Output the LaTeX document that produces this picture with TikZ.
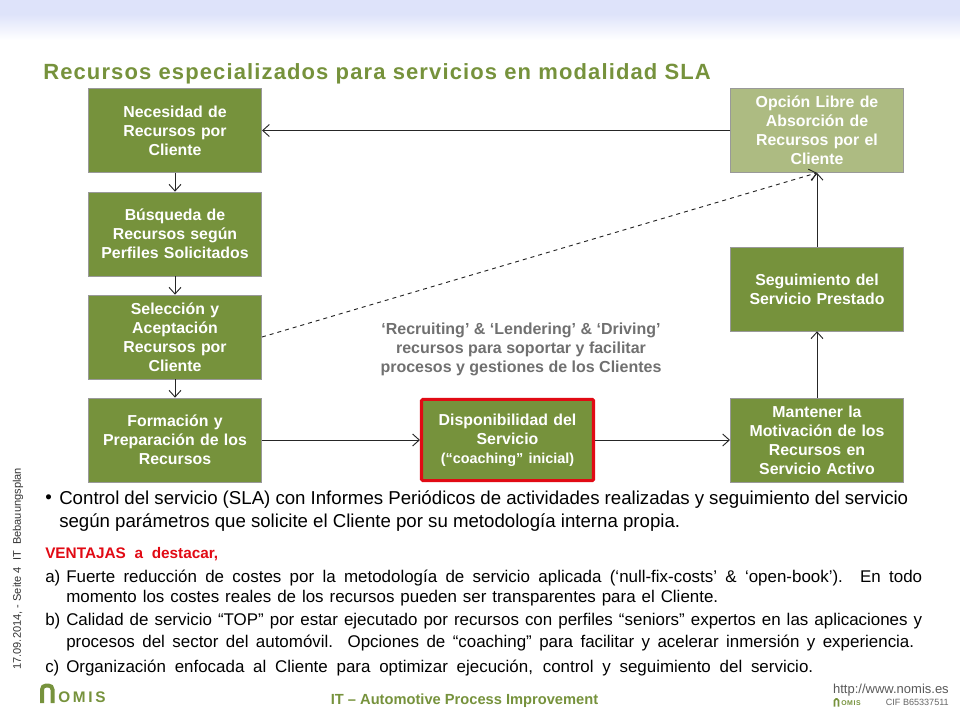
\documentclass[tikz,border=0pt]{standalone}
\usepackage{fontspec}
\setmainfont{Liberation Sans}
\usetikzlibrary{arrows.meta, positioning, calc}
\definecolor{nomisgreen}{RGB}{118,146,60}
\definecolor{nomislight}{RGB}{173,187,130}
\definecolor{nomisgrey}{RGB}{112,112,112}
\definecolor{nomisblue}{RGB}{222,227,250}
\definecolor{nomisred}{RGB}{225,10,20}
% a line stretched to a width given in pixels of the reference
\newcommand{\spanline}[2]{\makebox[\dimexpr #1pt*3/4\relax][s]{#2}}
\tikzset{
    flowbox/.style={
        draw=black!40,
        fill=nomisgreen,
        line width=0.5pt,
        minimum width=130pt,
        minimum height=63pt,
        inner sep=0pt,
        text width=128pt,
        align=center,
        text=white,
        font=\fontsize{11.9}{14.2}\selectfont\bfseries
    },
    flowline/.style={
        draw=black!85,
        line width=0.7pt,
        -{Straight Barb[length=5pt,width=9pt]}
    },
    bodytext/.style={
        anchor=north west,
        inner sep=0pt,
        align=left,
        font=\fontsize{12.7}{15}\selectfont
    },
    logoarch/.style={
        draw=nomisgreen,
        line cap=butt,
        rounded corners=3pt
    }
}
\begin{document}
\begin{tikzpicture}[x=0.75pt,y=-0.75pt]
    \useasboundingbox (0,0) rectangle (960,720);
    \shade[top color=nomisblue, bottom color=white] (0,14) rectangle (960,40);
    \fill[nomisblue] (0,0) rectangle (960,14);

    \node[anchor=west, inner sep=0pt, text=nomisgreen, font=\fontsize{16.5}{18}\selectfont\bfseries\addfontfeature{LetterSpace=5.1}]
        (heading) at (43,73.5) {Recursos especializados para servicios en modalidad SLA};

    \node[flowbox] (necesidad) at (175,130.5) {Necesidad de\\Recursos por\\Cliente};
    \node[flowbox] (busqueda) at (175,234) {Búsqueda de\\Recursos según\\Perfiles Solicitados};
    \node[flowbox] (seleccion) at (175,337) {Selección y\\Aceptación\\Recursos por\\Cliente};
    \node[flowbox] (formacion) at (175,440) {Formación y\\Preparación de los\\Recursos};
    \node[flowbox, draw=nomisred, line width=2.3pt, rounded corners=1pt, minimum width=129pt, minimum height=61pt] (disponible) at (507.5,440)
        {Disponibilidad del\\Servicio\\{\fontsize{10.8}{14.2}\selectfont(“coaching” inicial)}};
    \node[flowbox] (mantener) at (817,440) {Mantener la\\Motivación de los\\Recursos en\\Servicio Activo};
    \node[flowbox] (seguimiento) at (817,289) {Seguimiento del\\Servicio Prestado};
    \node[flowbox, fill=nomislight] (opcion) at (817,130.5) {Opción Libre de\\Absorción de\\Recursos por el\\Cliente};

    \draw[flowline] (necesidad) -- (busqueda);
    \draw[flowline] (busqueda) -- (seleccion);
    \draw[flowline] (seleccion) -- (formacion);
    \draw[flowline] (formacion) -- (disponible);
    \draw[flowline] (disponible) -- (mantener);
    \draw[flowline] (mantener) -- (seguimiento);
    \draw[flowline] (seguimiento) -- (opcion);
    \draw[flowline] (opcion) -- (necesidad);
    \draw[flowline, dashed] (seleccion.east) -- (opcion.south);

    \node[inner sep=0pt, align=center, text=nomisgrey, font=\fontsize{12}{14.2}\selectfont\bfseries] (nota) at (521,349)
        {‘Recruiting’ \& ‘Lendering’ \& ‘Driving’\hspace{17pt}\\recursos para soportar y facilitar\\procesos y gestiones de los Clientes};

    \node[anchor=west, inner sep=0pt, font=\fontsize{14}{16}\selectfont] (bala) at (45,499) {•};
    \node[bodytext, font=\fontsize{14}{17.25}\selectfont] (control) at (59,490)
        {\spanline{849}{Control del servicio (SLA) con Informes Periódicos de actividades realizadas y seguimiento del servicio}\\
        \spanline{621}{según parámetros que solicite el Cliente por su metodología interna propia.}};

    \node[anchor=west, inner sep=0pt, text=nomisred, font=\fontsize{11.5}{12}\selectfont\bfseries] (ventajas) at (45,554)
        {\spanline{173}{VENTAJAS a destacar,}};

    \node[bodytext] (marcaa) at (45,569.5) {a)};
    \node[bodytext] (textoa) at (66,569.5)
        {\spanline{856}{Fuerte reducción de costes por la metodología de servicio aplicada (‘null-fix-costs’ \& ‘open-book’). En todo}\\
        \spanline{652}{momento los costes reales de los recursos pueden ser transparentes para el Cliente.}};
    \node[bodytext] (marcab) at (45,612.5) {b)};
    \node[bodytext, font=\fontsize{12.7}{16.5}\selectfont] (textob) at (66,612.5)
        {\spanline{856}{Calidad de servicio “TOP” por estar ejecutado por recursos con perfiles “seniors” expertos en las aplicaciones y}\\
        \spanline{848}{procesos del sector del automóvil. Opciones de “coaching” para facilitar y acelerar inmersión y experiencia.}};
    \node[bodytext] (marcac) at (45,660) {c)};
    \node[bodytext] (textoc) at (66,660)
        {\spanline{747}{Organización enfocada al Cliente para optimizar ejecución, control y seguimiento del servicio.}};

    \node[rotate=90, anchor=west, inner sep=0pt, text=black!80, font=\fontsize{8.3}{9}\selectfont] (margen) at (18,670)
        {17.09.2014, - Seite 4 \ IT \ Bebauungsplan};

    \draw[logoarch, line width=3pt] (42,703) -- (42,685.5) -- (52.5,685.5) -- (52.5,703);
    \node[anchor=west, inner sep=0pt, text=nomisgreen, font=\fontsize{11.5}{12}\selectfont\bfseries\addfontfeature{LetterSpace=18}] (logo) at (58,697.5) {OMIS};
    \node[inner sep=0pt, text=nomisgreen, font=\fontsize{11}{12}\selectfont\bfseries] (lema) at (464.5,701) {IT – Automotive Process Improvement};
    \node[anchor=east, inner sep=0pt, text=black!65, font=\fontsize{9.75}{11}\selectfont] (web) at (949,690) {http://www.nomis.es};
    \draw[logoarch, line width=1.2pt, rounded corners=1.2pt] (834.5,706.5) -- (834.5,698.8) -- (838.5,698.8) -- (838.5,706.5);
    \node[anchor=west, inner sep=0pt, text=nomisgreen, font=\fontsize{5.2}{6}\selectfont\bfseries\addfontfeature{LetterSpace=8}] (logopie) at (841,703.5) {OMIS};
    \node[anchor=east, inner sep=0pt, text=black!60, font=\fontsize{6.8}{8}\selectfont] (cif) at (949,702) {CIF B65337511};
\end{tikzpicture}
\end{document}
